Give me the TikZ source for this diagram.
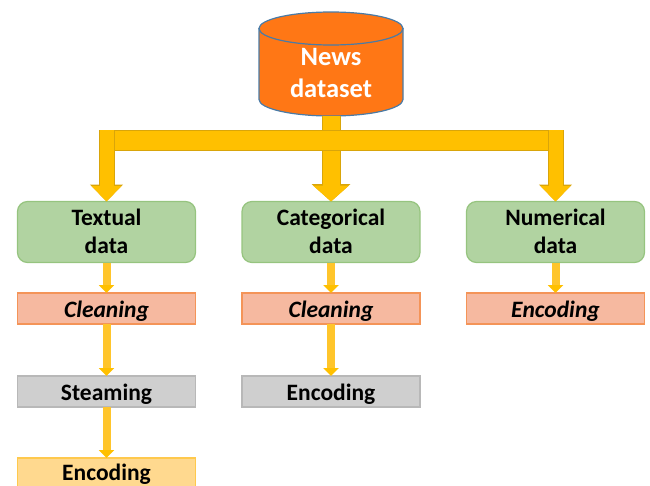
\documentclass[tikz,border=0pt]{standalone}
\usepackage{fontspec}
\setmainfont{Carlito}
\usetikzlibrary{arrows.meta,calc}
\definecolor{bigfill}{HTML}{FFC000}
\definecolor{bigedge}{HTML}{D9A50A}
\definecolor{smallfill}{HTML}{FFC52B}
\definecolor{cylfill}{HTML}{FF7715}
\definecolor{cyledge}{HTML}{4A7BA6}
\definecolor{greenfill}{HTML}{B1D3A1}
\definecolor{greenedge}{HTML}{96C47F}
\definecolor{salmonfill}{HTML}{F6B9A0}
\definecolor{salmonedge}{HTML}{F49458}
\definecolor{greyfill}{HTML}{CFCFCF}
\definecolor{greyedge}{HTML}{B8B8B8}
\definecolor{yellowfill}{HTML}{FFD98F}
\definecolor{yellowedge}{HTML}{FFC94D}
\newcommand{\twolines}[2]{\raisebox{-8pt}[0pt][0pt]{\begin{tabular}{@{}c@{}}#1\\[-0.5pt]#2\end{tabular}}}
\newcommand{\oneline}[1]{\raisebox{-8.5pt}[0pt][0pt]{#1}}
\tikzset{
  x=1pt,y=-1pt,
  label text/.style={font=\fontsize{23.5}{29}\selectfont\bfseries,text=black,align=center},
  box/.style={label text,minimum width=178,minimum height=31,inner sep=0,outer sep=0,line width=1.2,anchor=north west},
  greenbox/.style={box,draw=greenedge,fill=greenfill,rounded corners=10,minimum height=61},
  salmonbox/.style={box,draw=salmonedge,fill=salmonfill},
  greybox/.style={box,draw=greyedge,fill=greyfill},
  yellowbox/.style={box,draw=yellowedge,fill=yellowfill},
  smallarrow/.style={draw=smallfill,line width=8,-{Triangle[width=15,length=8,color=bigfill]}},
  bigarrow/.style={draw=bigfill,line width=14,-{Triangle[width=29,length=15.5,color=bigfill]},
    preaction={draw=bigedge,line width=16,-{Triangle[width=32,length=17,color=bigedge]}}},
  widearrow/.style={draw=bigfill,line width=17,-{Triangle[width=35,length=16,color=bigfill]},
    preaction={draw=bigedge,line width=19,-{Triangle[width=38,length=17.5,color=bigedge]}}},
  cylpart/.style={draw=cyledge,line width=1.2,fill=cylfill},
}
\begin{document}
\begin{tikzpicture}
\useasboundingbox (0,0) rectangle (650,485);
\clip (0,0) rectangle (650,485);
% boxes
\node[greenbox] (textual) at (17.5,201.5) {\twolines{Textual}{data}};
\node[greenbox] (categ) at (242,201.5) {\twolines{Categorical}{data}};
\node[greenbox] (numer) at (466.5,201.5) {\twolines{Numerical}{data}};
\node[salmonbox] (clean1) at (17.5,293) {\oneline{\itshape Cleaning}};
\node[salmonbox] (clean2) at (242,293) {\oneline{\itshape Cleaning}};
\node[salmonbox] (enc3) at (466.5,293) {\oneline{\itshape Encoding}};
\node[greybox] (steam) at (17.5,376) {\oneline{Steaming}};
\node[greybox] (enc2) at (242,376) {\oneline{Encoding}};
\node[yellowbox] (enc1) at (17.5,458) {\raisebox{-6.5pt}[0pt][0pt]{Encoding}};
% cylinder
\node[inner sep=0,outer sep=0,minimum width=144,minimum height=104] (news) at (331,64) {};
\draw[cylpart] ($(news.north west)+(0,16.5)$) -- ($(news.south west)+(0,-16.5)$)
  arc[start angle=180,end angle=0,x radius=72,y radius=16.5]
  -- ($(news.north east)+(0,16.5)$) -- cycle;
\draw[cylpart] ($(news.north)+(0,16.5)$) ellipse[x radius=72,y radius=16.5];
\node[font=\fontsize{26.5}{32}\selectfont\bfseries,text=white,align=center,inner sep=0] (newstext) at (331,73) {News\\dataset};
% trunk and arrows
\coordinate (busL) at ($(textual.north)+(0,-71.5)$);
\coordinate (busR) at ($(numer.north)+(0,-71.5)$);
\draw[widearrow] (news.south) -- (categ.north);
\node[draw=bigedge,line width=1,fill=bigfill,minimum width=435,minimum height=20,inner sep=0,outer sep=0] (bus) at (330.5,140) {};
\draw[bigarrow] (busL) -- (textual.north);
\draw[bigarrow] (busR) -- (numer.north);
\draw[smallarrow] (textual.south) -- (clean1.north);
\draw[smallarrow] (clean1.south) -- (steam.north);
\draw[smallarrow] (steam.south) -- (enc1.north);
\draw[smallarrow] (categ.south) -- (clean2.north);
\draw[smallarrow] (clean2.south) -- (enc2.north);
\draw[smallarrow] (numer.south) -- (enc3.north);
\end{tikzpicture}
\end{document}
